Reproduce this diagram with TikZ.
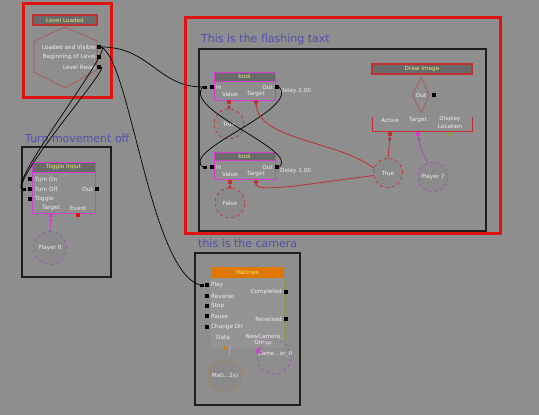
\documentclass[tikz,border=0pt]{standalone}
\usepackage{fontspec}
\setmainfont{DejaVu Sans}
\usetikzlibrary{arrows.meta,shapes.geometric}
\definecolor{bg}{HTML}{8E8E8E}
\definecolor{boxred}{HTML}{E01212}
\definecolor{framec}{HTML}{1E1E1E}
\definecolor{tbc}{HTML}{6A6A6A}
\definecolor{ttc}{HTML}{E8E880}
\definecolor{lbc}{HTML}{EEEEEE}
\definecolor{notec}{HTML}{5050B0}
\definecolor{magc}{HTML}{D040D0}
\definecolor{purc}{HTML}{A050B0}
\definecolor{linkred}{HTML}{C03030}
\definecolor{hexc}{HTML}{B05050}
\definecolor{circc}{HTML}{8A8A8A}
\definecolor{orangec}{HTML}{E07800}
\definecolor{olivec}{HTML}{8A9A40}
\definecolor{lbluec}{HTML}{80B0E0}
\begin{document}
\begin{tikzpicture}[x=1pt,y=-1pt,
  port/.style={fill=black,inner sep=0,minimum size=4pt},
  wend/.style={fill=black,inner sep=0,minimum width=4pt,minimum height=3pt},
  lbl/.style={font=\fontsize{5.7}{6.5}\selectfont,text=lbc,inner sep=0},
  note/.style={font=\fontsize{11}{13}\selectfont,text=notec,inner sep=0,anchor=west},
  tbar/.style={fill=tbc,text=ttc,font=\fontsize{5.7}{6.5}\selectfont,inner sep=0},
  redbox/.style={draw=boxred,line width=3pt},
  framebox/.style={draw=framec,line width=1.5pt},
  wire/.style={draw=black,line width=0.7pt},
  rwire/.style={draw=linkred,line width=0.8pt},
  varc/.style={circle,draw=#1,dashed,line width=0.7pt,fill=circc,minimum size=30pt,inner sep=0,font=\fontsize{5.7}{6.5}\selectfont,text=lbc},
  tip/.style={-{Triangle[length=4pt,width=3.5pt]}}
]
\useasboundingbox (0,0) rectangle (539,415);
\fill[bg] (0,0) rectangle (539,415);

% ---------- Level Loaded ----------
\draw[redbox] (23,3) rectangle (111,97);
\draw[hexc,line width=0.6pt] (65,27) -- (97,41) -- (97,70) -- (65,88) -- (34,72) -- (34,41) -- cycle;
\node[tbar,draw=linkred,line width=1.2pt,minimum width=64pt,minimum height=10pt] (ll) at (65,20) {Level Loaded};
\node[lbl,anchor=east] (lvl) at (96,47) {Loaded and Visible};
\node[lbl,anchor=east] (bll) at (96,57) {Beginning of Level};
\node[lbl,anchor=east] (lrl) at (96,67) {Level Reset};
\node[port] (lv) at (99,47) {};
\node[port] (bl) at (99,57) {};
\node[port] (lr) at (99,67) {};

% ---------- Turn movement off ----------
\node[note] (n1) at (25,138) {Turn movement off};
\draw[framebox] (22,147) rectangle (111,277);
\draw[magc,line width=1pt] (32,162) rectangle (95,213);
\node[tbar,draw=magc,line width=1pt,minimum width=63pt,minimum height=10pt] (ti) at (63.5,167) {Toggle Input};
\node[lbl,anchor=west] (ton) at (35,179) {Turn On};
\node[lbl,anchor=west] (toff) at (35,189) {Turn Off};
\node[lbl,anchor=west] (tog) at (35,199) {Toggle};
\node[lbl,anchor=east] (tout) at (93,189) {Out};
\node[lbl] (ttg) at (51,208) {Target};
\node[lbl] (tev) at (78,208) {Event};
\node[port] (p_on) at (30,179) {};
\node[port] (p_off) at (30,189) {};
\node[port] (p_tog) at (30,199) {};
\node[port] (p_out) at (97,189) {};
\node[wend] (w_off) at (24,189) {};
\node[fill=magc,inner sep=0,minimum size=4pt] (p_tgt) at (51,215) {};
\node[fill=boxred,inner sep=0,minimum size=4pt] (p_ev) at (78,215) {};
\node[varc=purc,minimum size=33pt] (pl0) at (50,248) {Player 0};
\draw[magc,line width=0.8pt,tip] (pl0.north) -- (p_tgt.south);

% ---------- Flashing text ----------
\draw[redbox] (185,17) rectangle (500,233);
\node[note] (n2) at (201,39) {This is the flashing taxt};
\draw[framebox] (199,49) rectangle (486,231);

% bool 1
\draw[magc,line width=1pt] (214,72) rectangle (275,100);
\node[tbar,draw=magc,line width=1pt,minimum width=61pt,minimum height=9pt] (b1) at (244.5,76.5) {bool};
\node[lbl,anchor=west] at (216,87) {In};
\node[lbl,anchor=east] at (273,87) {Out};
\node[lbl] at (230,94) {Value};
\node[lbl] at (256,94) {Target};
\node[port] (b1in) at (212,87) {};
\node[wend] (b1w) at (205,87) {};
\node[port] (b1out) at (277,87) {};
\node[fill=linkred,inner sep=0,minimum size=4pt] (b1v) at (229,102) {};
\fill[linkred] (253,100.5) -- (259,100.5) -- (256,105.5) -- cycle;
\coordinate (b1t) at (256,104);
\node[lbl,anchor=west] at (280,91) {Delay 2.00};
\node[varc=linkred] (tr1) at (229,124) {True};
\draw[rwire,tip] (tr1.north) -- (b1v.south);

% bool 2
\draw[magc,line width=1pt] (214,152) rectangle (275,179);
\node[tbar,draw=magc,line width=1pt,minimum width=61pt,minimum height=8pt] (b2) at (244.5,156) {bool};
\node[lbl,anchor=west] at (216,167) {In};
\node[lbl,anchor=east] at (273,167) {Out};
\node[lbl] at (230,174) {Value};
\node[lbl] at (256,174) {Target};
\node[port] (b2in) at (212,167) {};
\node[wend] (b2w) at (205,167) {};
\node[port] (b2out) at (277,167) {};
\node[fill=linkred,inner sep=0,minimum size=4pt] (b2v) at (230,182) {};
\fill[linkred] (253,180.5) -- (259,180.5) -- (256,185.5) -- cycle;
\coordinate (b2t) at (256,184);
\node[lbl,anchor=west] at (280,171) {Delay 1.00};
\node[varc=linkred] (fa) at (230,203) {False};
\draw[rwire,tip] (fa.north) -- (b2v.south);

% Draw Image
\node[tbar,draw=linkred,line width=1.2pt,minimum width=100pt,minimum height=10pt] (di) at (422,69) {Draw Image};
\node[diamond,draw=hexc,line width=0.6pt,minimum width=17pt,minimum height=36pt,inner sep=0] (dd) at (421,95) {};
\node[lbl] at (421,95) {Out};
\node[port] (diout) at (434,95) {};
\draw[linkred,line width=1pt] (372,117) -- (372,131) -- (472,131) -- (472,117);
\node[lbl] at (390,120) {Active};
\node[lbl] at (418,120) {Target};
\node[lbl] at (450,119) {Display};
\node[lbl] at (450,126) {Location};
\node[fill=linkred,inner sep=0,minimum size=4pt] (dact) at (390,134) {};
\node[fill=magc,inner sep=0,minimum size=4pt] (dtgt) at (418,134) {};
\fill[olivec] (447,133) -- (453,133) -- (450,138) -- cycle;
\node[varc=linkred,minimum size=29pt] (tr2) at (388,173) {True};
\node[varc=purc] (pl7) at (433,177) {Player 7};
\draw[rwire,tip] (tr2.north) -- (dact.south);
\draw[purc,line width=0.8pt,tip] (pl7.110) .. controls (422,152) .. (dtgt.south);

% ---------- Camera ----------
\node[note] (n3) at (198,243) {this is the camera};
\draw[framebox] (195,253) rectangle (300,405);
\fill[black!0!bg!95!white] (211,278) rectangle (284,348);
\draw[olivec,line width=0.6pt] (284,278) -- (284,340);
\node[fill=orangec,text=ttc,font=\fontsize{5.7}{6.5}\selectfont,inner sep=0,minimum width=73pt,minimum height=11pt] (mt) at (247.5,272.5) {Matinee};
\node[lbl,anchor=west] at (211,285) {Play};
\node[lbl,anchor=west] at (211,296) {Reverse};
\node[lbl,anchor=west] at (211,306) {Stop};
\node[lbl,anchor=west] at (211,316) {Pause};
\node[lbl,anchor=west] at (211,327) {Change Dir};
\node[port] (mplay) at (207,285) {};
\node[wend] (mw) at (202,285) {};
\node[port] at (207,296) {};
\node[port] at (207,306) {};
\node[port] at (207,316) {};
\node[port] at (207,327) {};
\node[lbl,anchor=east] at (282,292) {Completed};
\node[lbl,anchor=east] at (282,319) {Reversed};
\node[port] at (286,292) {};
\node[port] at (286,319) {};
\node[lbl] at (223,337) {Data};
\node[lbl] at (263,336) {NewCamera};
\node[lbl] at (263,343) {Group};
\node[varc=purc,minimum size=34pt,fill=none] (cam) at (274,357) {};
\node[lbl] at (275,354) {Came...or\_0};
\fill[magc] (255,353) -- (261,353) -- (258,347) -- cycle;
\node[varc={orangec!60!bg},minimum size=34pt] (mat) at (225,376) {Mati...2s)};
\draw[orangec,line width=1pt,tip] (mat.north) -- (225,345);
\draw[lbluec,line width=0.8pt] (229,346) -- (229,355);

% ---------- Wires ----------
\draw[wire] (lv.east) .. controls (150,47) and (158,87) .. (b1w.west);
\draw[wire] (lv.east) .. controls (130,60) and (150,270) .. (mw.west);
\draw[wire] (lv.east) .. controls (115,47) and (10,180) .. (w_off.west);
\draw[wire] (lr.east) .. controls (110,67) and (15,175) .. (w_off.west);
\draw[wire] (b1out.east) .. controls (300,110) and (180,150) .. (b2w.west);
\draw[wire] (b1w.west) .. controls (182,110) and (300,150) .. (b2out.east);
\draw[rwire] (b1t) .. controls (258,140) and (335,140) .. (tr2.160);
\draw[rwire] (tr2.190) .. controls (320,182) and (256,194) .. (b2t);
\end{tikzpicture}
\end{document}
